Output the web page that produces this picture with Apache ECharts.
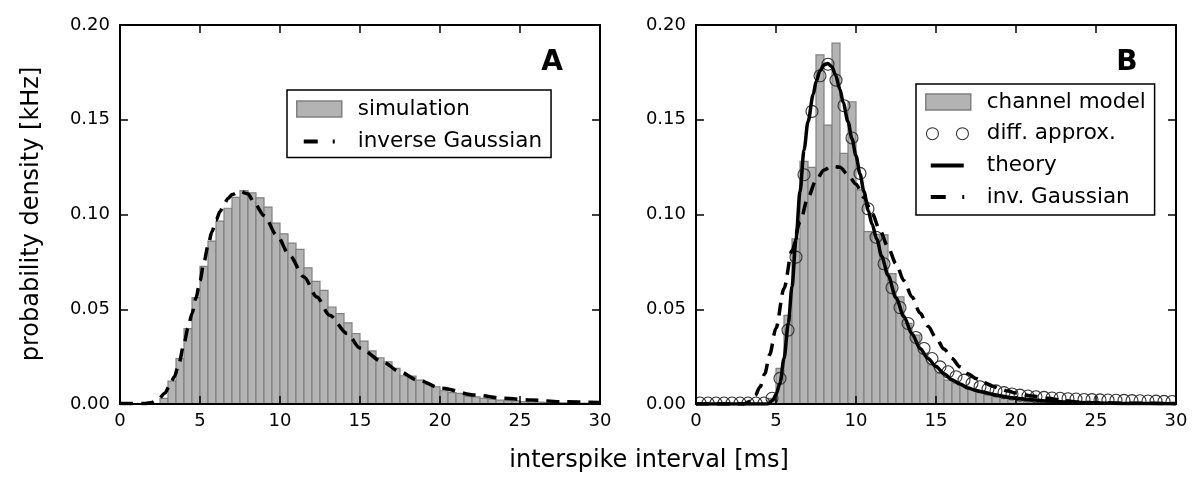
<!DOCTYPE html>
<html>
<head>
<meta charset="utf-8">
<script src="https://cdn.jsdelivr.net/npm/echarts@6/dist/echarts.min.js"></script>
<style>
html,body{margin:0;padding:0;background:#fff;}
#chart{width:1200px;height:493px;}
</style>
</head>
<body>
<div id="chart"></div>
<script>
// ---------------- data ----------------
var binWidth = 0.5;
// Panel A: simulation histogram (60 bins of 0.5 ms, 0..30 ms)
var histA = [0,0,0,0,0,0.003,0.0121,0.024,0.0398,0.0561,
  0.0726,0.086,0.0965,0.1033,0.109,0.1126,0.1114,0.1088,0.1039,0.0954,
  0.0898,0.0849,0.0816,0.0718,0.0647,0.06,0.0512,0.0477,0.0428,0.0372,
  0.0332,0.028,0.0244,0.0223,0.0188,0.0149,0.0147,0.0126,0.0103,0.0091,
  0.007,0.006,0.0056,0.0042,0.0038,0.003,0.0025,0.002,0.0018,0.0016,
  0.0013,0.0011,0.001,0.0008,0.0007,0.0006,0.0005,0.0004,0.0004,0.0003];
// Panel A: inverse Gaussian (x, y)
var invGaussA = [[0,0.0003],[1.6,0.0003],[2.0,0.0008],[2.4,0.0025],[2.8,0.0057],[3.1,0.0095],[3.4,0.0144],
  [3.7,0.022],[4.0,0.032],[4.25,0.04],[4.5,0.0478],[4.75,0.056],[5.0,0.065],[5.25,0.075],[5.5,0.0835],
  [5.75,0.091],[6.0,0.097],[6.25,0.1015],[6.5,0.1055],[6.75,0.1085],[7.0,0.1105],[7.5,0.1122],
  [8.0,0.1108],[8.4,0.106],[9.0,0.0995],[9.8,0.089],[10.6,0.0784],[11.5,0.067],[12.3,0.0565],
  [13.1,0.0468],[14.2,0.0372],[15.0,0.0295],[16.4,0.0223],[17.5,0.017],[18.6,0.0126],[20.1,0.0083],
  [22.2,0.0047],[24.0,0.003],[25.7,0.0021],[27.6,0.0012],[30,0.0008]];
// Panel B: channel model histogram
var histB = [0,0,0,0,0,0,0,0,0,0.003,
  0.0188,0.0468,0.0872,0.128,0.1249,0.1842,0.1472,0.1904,0.1323,0.1595,
  0.113,0.091,0.0895,0.0893,0.0688,0.0565,0.0425,0.0363,0.0267,0.0205,
  0.0161,0.0126,0.011,0.0095,0.008,0.0068,0.0058,0.005,0.0042,0.0035,
  0.003,0.0025,0.0021,0.0018,0.0015,0.0012,0.001,0.0008,0.0006,0.0005,
  0.0004,0.0003,0.0003,0.0002,0.0002,0.0002,0.0001,0.0001,0.0001,0.0001];
// Panel B: diffusion approximation (values at bin centres)
var diffB = [0.0005,0.0005,0.0005,0.0005,0.0005,0.0005,0.0005,0.0005,0.0005,0.003,
  0.0135,0.039,0.0775,0.121,0.1544,0.1732,0.1793,0.1709,0.1574,0.1404,
  0.1217,0.103,0.088,0.074,0.0614,0.0509,0.0425,0.0351,0.0293,0.024,
  0.0196,0.017,0.0144,0.0126,0.0109,0.0091,0.0079,0.0069,0.006,0.0053,
  0.0047,0.0042,0.0038,0.0035,0.0032,0.003,0.0028,0.0026,0.0024,0.0023,
  0.0022,0.0021,0.002,0.0019,0.0018,0.0017,0.0016,0.0015,0.0014,0.0013];
// Panel B: theory (x, y)
var theoryB = [[0,0],[4.5,0],[4.8,0.002],[5.0,0.005],[5.25,0.011],[5.5,0.024],[5.77,0.0425],[6.0,0.062],
  [6.25,0.087],[6.5,0.112],[6.75,0.134],[7.0,0.149],[7.33,0.1635],[7.5,0.17],[7.75,0.1758],[8.0,0.179],
  [8.23,0.1797],[8.5,0.178],[8.7,0.174],[9.0,0.166],[9.2,0.159],[9.5,0.149],[9.75,0.14],[10.0,0.131],
  [10.25,0.1214],[10.5,0.112],[10.77,0.102],[11.0,0.095],[11.3,0.087],[11.6,0.078],[12.0,0.068],
  [12.5,0.056],[13.0,0.046],[13.5,0.037],[14.0,0.0293],[14.5,0.024],[15.0,0.0198],[15.5,0.016],
  [16.0,0.0128],[16.5,0.0105],[17.0,0.0085],[17.5,0.0071],[18.0,0.0062],[18.5,0.0052],[19.0,0.0043],
  [19.5,0.0036],[20.0,0.003],[21,0.0022],[22,0.0016],[23,0.0011],[24,0.0008],[25,0.0005],[27,0.0003],[30,0.0001]];
// Panel B: inverse Gaussian (x, y)
var invGaussB = [[0,0],[3.0,0],[3.4,0.0015],[3.7,0.0045],[4.0,0.009],[4.3,0.016],[4.6,0.026],[5.0,0.04],
  [5.5,0.061],[6.0,0.081],[6.5,0.096],[7.0,0.109],[7.5,0.118],[8.0,0.1235],[8.5,0.1255],[9.0,0.125],
  [9.5,0.121],[10.0,0.116],[10.5,0.109],[11.0,0.1005],[11.5,0.0916],[12.0,0.0828],[12.5,0.074],
  [13.0,0.065],[13.5,0.0565],[14.0,0.048],[14.5,0.041],[15.0,0.035],[15.5,0.029],[16.0,0.024],
  [16.5,0.0196],[17.0,0.016],[17.5,0.0135],[18.0,0.0113],[18.5,0.0095],[19.0,0.008],[19.5,0.0068],
  [20.0,0.0058],[21,0.0042],[22,0.003],[23,0.0017],[24,0.001],[25,0.0007],[27,0.0004],[30,0.0002]];

var xTicks = [0, 5, 10, 15, 20, 25, 30];
var yTicks = [0, 0.05, 0.10, 0.15, 0.20];
var legendA = ['simulation', 'inverse Gaussian'];
var legendB = ['channel model', 'diff. approx.', 'theory', 'inv. Gaussian'];
var axisTitleX = 'interspike interval [ms]';
var axisTitleY = 'probability density [kHz]';
var panelLabels = ['A', 'B'];

// ---------------- build ----------------
function toBins(arr) {
  var out = [];
  for (var i = 0; i < arr.length; i++) {
    if (arr[i] > 0) out.push([i * binWidth, (i + 1) * binWidth, arr[i]]);
  }
  return out;
}
function toCentres(arr) {
  return arr.map(function (v, i) { return [(i + 0.5) * binWidth, v]; });
}
function histItem(params, api) {
  var p0 = api.coord([api.value(0), api.value(2)]);
  var p1 = api.coord([api.value(1), 0]);
  return {
    type: 'rect',
    shape: { x: p0[0], y: p0[1], width: p1[0] - p0[0], height: p1[1] - p0[1] },
    style: { fill: '#b3b3b3', stroke: '#808080', lineWidth: 1.2 }
  };
}
function circleItem(params, api) {
  var p = api.coord([api.value(0), api.value(1)]);
  return {
    type: 'circle',
    shape: { cx: p[0], cy: p[1], r: 6 },
    style: { fill: 'none', stroke: '#333', lineWidth: 1.1 }
  };
}

var FONT = 'DejaVu Sans';
var xMin = xTicks[0], xMax = xTicks[xTicks.length - 1];
var yMin = yTicks[0], yMax = yTicks[yTicks.length - 1];

function xAx(grid, pos) {
  return {
    type: 'value', gridIndex: grid, position: pos, min: xMin, max: xMax, interval: 5, z: 10,
    axisLine: { show: true, onZero: false, lineStyle: { color: '#000', width: 2 } },
    axisTick: { show: true, inside: true, length: 8, lineStyle: { color: '#000', width: 1.5 } },
    axisLabel: { show: pos === 'bottom', color: '#000', fontSize: 18, fontFamily: FONT, margin: 8 },
    splitLine: { show: false }
  };
}
function yAx(grid, pos) {
  return {
    type: 'value', gridIndex: grid, position: pos, min: yMin, max: yMax, interval: 0.05, z: 10,
    axisLine: { show: true, onZero: false, lineStyle: { color: '#000', width: 2 } },
    axisTick: { show: true, inside: true, length: 8, lineStyle: { color: '#000', width: 1.5 } },
    axisLabel: { show: pos === 'left', color: '#000', fontSize: 18, fontFamily: FONT, margin: 10,
      formatter: function (v) { return v.toFixed(2); } },
    splitLine: { show: false }
  };
}

var dashIconA = 'path://M0,0L0,0M45,16L45,16M7,6h14v4h-14zM36,6h2v4h-2z';
var dashIconB = 'path://M0,0L0,0M45,16L45,16M5,6h15v4h-15zM36.5,6h2v4h-2z';
var solidIcon = 'path://M0,0L0,0M45,16L45,16M5,6h33v4h-33z';
var circIcon = 'path://M0,0L0,0M45,16L45,16M12.7,8A6,6,0,1,1,0.7,8A6,6,0,1,1,12.7,8ZM42.7,8A6,6,0,1,1,30.7,8A6,6,0,1,1,42.7,8Z';

var legendText = { color: '#000', fontSize: 21.5, fontFamily: FONT, lineHeight: 22, padding: [0, 0, 0, 11] };

var option = {
  animation: false,
  backgroundColor: '#fff',
  grid: [
    { left: 120, top: 25, width: 480, height: 379 },
    { left: 696, top: 25, width: 480, height: 379 }
  ],
  xAxis: [xAx(0, 'bottom'), xAx(0, 'top'), xAx(1, 'bottom'), xAx(1, 'top')],
  yAxis: [yAx(0, 'left'), yAx(0, 'right'), yAx(1, 'left'), yAx(1, 'right')],
  legend: [
    {
      orient: 'vertical', left: 287, top: 90, itemWidth: 45, itemHeight: 16, itemGap: 10.5,
      padding: [8, 9, 5, 9], borderColor: '#000', borderWidth: 1.5, backgroundColor: '#fff',
      selectedMode: false, textStyle: legendText,
      data: [
        { name: legendA[0], icon: 'rect', itemStyle: { color: '#b3b3b3', borderColor: '#808080', borderWidth: 1.5 } },
        { name: legendA[1], icon: dashIconA, itemStyle: { color: '#000', borderWidth: 0 } }
      ]
    },
    {
      orient: 'vertical', left: 916, top: 84, itemWidth: 45, itemHeight: 16, itemGap: 9.7,
      padding: [7, 9, 7, 9], borderColor: '#000', borderWidth: 1.5, backgroundColor: '#fff',
      selectedMode: false, textStyle: legendText,
      data: [
        { name: legendB[0], icon: 'rect', itemStyle: { color: '#b3b3b3', borderColor: '#808080', borderWidth: 1.5 } },
        { name: legendB[1], icon: circIcon, itemStyle: { color: 'rgba(0,0,0,0)', borderColor: '#333', borderWidth: 1.1 } },
        { name: legendB[2], icon: solidIcon, itemStyle: { color: '#000', borderWidth: 0 } },
        { name: legendB[3], icon: dashIconB, itemStyle: { color: '#000', borderWidth: 0 } }
      ]
    }
  ],
  graphic: [
    { type: 'text', x: 32, y: 214, rotation: Math.PI / 2,
      style: { text: axisTitleY, font: '24px "DejaVu Sans"', fill: '#000', textAlign: 'center', textVerticalAlign: 'middle' } },
    { type: 'text', x: 649, y: 461,
      style: { text: axisTitleX, font: '24px "DejaVu Sans"', fill: '#000', textAlign: 'center', textVerticalAlign: 'middle' } },
    { type: 'text', x: 552, y: 63,
      style: { text: panelLabels[0], font: 'bold 28px "DejaVu Sans"', fill: '#000', textAlign: 'center', textVerticalAlign: 'middle' } },
    { type: 'text', x: 1127, y: 63,
      style: { text: panelLabels[1], font: 'bold 28px "DejaVu Sans"', fill: '#000', textAlign: 'center', textVerticalAlign: 'middle' } }
  ],
  series: [
    { name: legendA[0], type: 'custom', xAxisIndex: 0, yAxisIndex: 0, clip: true, z: 2,
      renderItem: histItem, data: toBins(histA), encode: { x: [0, 1], y: 2 } },
    { name: legendA[1], type: 'line', xAxisIndex: 0, yAxisIndex: 0, data: invGaussA, showSymbol: false,
      smooth: 0.3, smoothMonotone: 'x', clip: true, z: 4,
      lineStyle: { color: '#000', width: 3.5, type: [13, 8], cap: 'butt' }, itemStyle: { color: '#000' } },
    { name: legendB[0], type: 'custom', xAxisIndex: 2, yAxisIndex: 2, clip: true, z: 2,
      renderItem: histItem, data: toBins(histB), encode: { x: [0, 1], y: 2 } },
    { name: legendB[1], type: 'custom', xAxisIndex: 2, yAxisIndex: 2, clip: true, z: 3,
      renderItem: circleItem, data: toCentres(diffB), encode: { x: 0, y: 1 } },
    { name: legendB[2], type: 'line', xAxisIndex: 2, yAxisIndex: 2, data: theoryB, showSymbol: false,
      smooth: 0.3, smoothMonotone: 'x', clip: true, z: 4,
      lineStyle: { color: '#000', width: 3.5 }, itemStyle: { color: '#000' } },
    { name: legendB[3], type: 'line', xAxisIndex: 2, yAxisIndex: 2, data: invGaussB, showSymbol: false,
      smooth: 0.3, smoothMonotone: 'x', clip: true, z: 5,
      lineStyle: { color: '#000', width: 3.5, type: [13, 8], cap: 'butt' }, itemStyle: { color: '#000' } }
  ]
};

var chart = echarts.init(document.getElementById('chart'), null, { renderer: 'canvas' });
chart.setOption(option);
</script>
</body>
</html>
